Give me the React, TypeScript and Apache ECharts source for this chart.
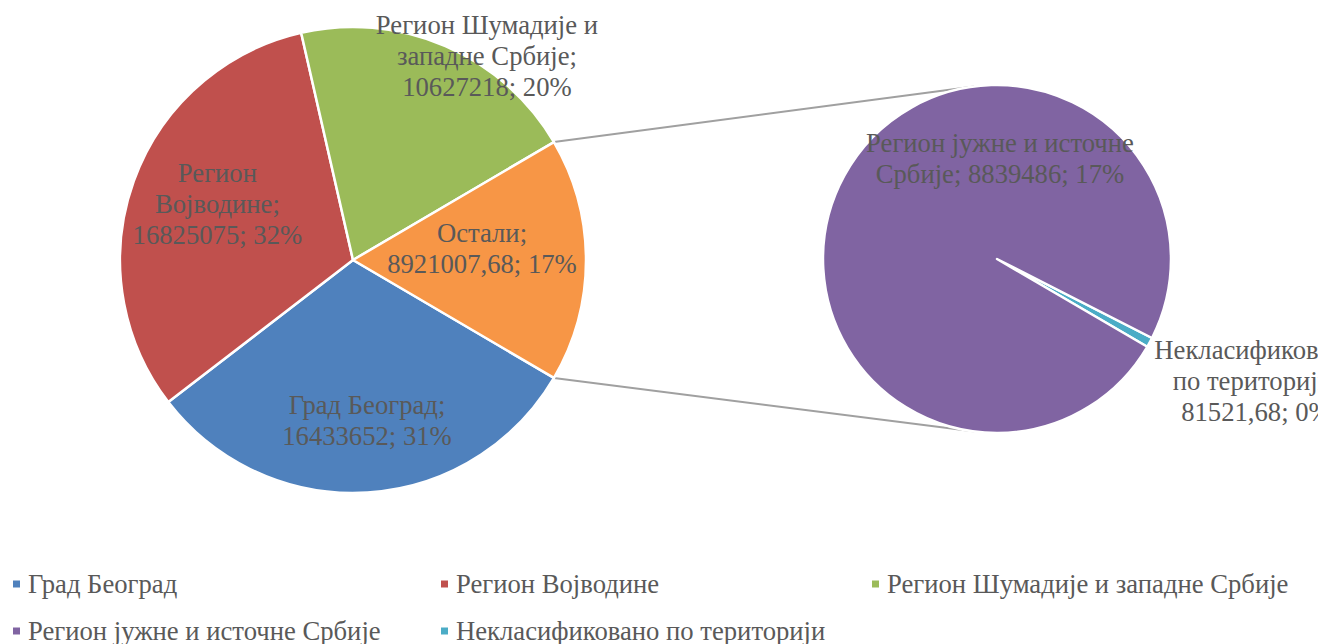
import React, { useEffect, useRef } from "react";
import * as echarts from "echarts";

// ---- data ----
const mainNames = [
  "Град Београд",
  "Регион Војводине",
  "Регион Шумадије и западне Србије",
  "Остали",
];
const mainValues = [16433652, 16825075, 10627218, 8921007.68];
const subNames = ["Некласификовано по територији", "Регион јужне и источне Србије"];
const subValues = [81521.68, 8839486];
const legendItems = [
  "Град Београд",
  "Регион Војводине",
  "Регион Шумадије и западне Србије",
  "Регион јужне и источне Србије",
  "Некласификовано по територији",
];

// ---- styles / layout ----
const mainColors = ["#4f81bd", "#c0504d", "#9bbb59", "#f79646"];
const subColors = ["#4bacc6", "#8064a2"];
const MC = [353, 260];
const MR = 233;
const SC = [997, 259];
const SR = 174;
const SUB_START = -27;
// label anchors: [radius factor, angle in degrees (counter-clockwise from 3 o'clock)]
const MAIN_LABEL_POS = [
  [0.69, -85],
  [0.63, 157.5],
  [1.047, 56.7],
  [0.556, 5.3],
];
const SUB_LABEL_POS = [
  [1.645, -25.2],
  [0.575, 88.3],
];
const MAIN_LABEL_W = [185, 185, 240, 205];
const SUB_LABEL_W = [225, 285];
const LEGEND_LEFT = [13, 441, 872, 13, 441];
const LEGEND_TOP = [569, 569, 569, 616, 616];
const FONT_NAME = "Liberation Serif";
const FONT = "'Liberation Serif', 'Times New Roman', serif";
const TEXT_COLOR = "#595959";
const FS = 26.67;

const total = mainValues.reduce((a, b) => a + b, 0);
const fmt = (v: number) => String(v).replace(".", ",");
const labelText = (name: string, v: number) =>
  `${name}; ${fmt(v)}; ${Math.round((v / total) * 100)}%`;

let measureCtx: CanvasRenderingContext2D | null = null;
function measure(s: string) {
  if (!measureCtx) {
    measureCtx = document.createElement("canvas").getContext("2d");
    if (measureCtx) measureCtx.font = `${FS}px '${FONT_NAME}'`;
  }
  return measureCtx ? measureCtx.measureText(s).width : s.length * FS * 0.5;
}
function wrap(text: string, w: number) {
  const words = text.split(" ");
  const lines: string[] = [];
  let cur = "";
  for (const word of words) {
    const test = cur ? cur + " " + word : word;
    if (cur && measure(test) > w) {
      lines.push(cur);
      cur = word;
    } else cur = test;
  }
  if (cur) lines.push(cur);
  return lines.join("\n");
}

function polar(c: number[], r: number, f: number, deg: number) {
  const a = (deg * Math.PI) / 180;
  return [c[0] + f * r * Math.cos(a), c[1] - f * r * Math.sin(a)];
}

function tangentPoints(p: number[], c: number[], r: number) {
  const dx = p[0] - c[0];
  const dy = p[1] - c[1];
  const d = Math.sqrt(dx * dx + dy * dy);
  const th = Math.atan2(dy, dx);
  const al = Math.acos(r / d);
  return [th + al, th - al].map((t) => [c[0] + r * Math.cos(t), c[1] + r * Math.sin(t)]);
}

export default function App() {
  const ref = useRef<HTMLDivElement>(null);
  useEffect(() => {
    document.body.style.margin = "0";
    if (!ref.current) return;
    const chart = echarts.init(ref.current, undefined, { renderer: "svg" });

    // "Other" slice is centred at 3 o'clock
    const otherAngle = (mainValues[3] / total) * 360;
    const mainStart = -otherAngle / 2;
    const pTop = polar(MC, MR, 1, otherAngle / 2);
    const pBot = polar(MC, MR, 1, -otherAngle / 2);
    const tTop = tangentPoints(pTop, SC, SR).sort((a, b) => a[1] - b[1])[0];
    const tBot = tangentPoints(pBot, SC, SR).sort((a, b) => b[1] - a[1])[0];

    const labelBase = {
      show: true,
      position: "inside",
      color: TEXT_COLOR,
      fontFamily: FONT,
      fontSize: FS,
      lineHeight: 31,
      align: "center",
    };

    chart.setOption({
      animation: false,
      backgroundColor: "#ffffff",
      legend: legendItems.map((name, i) => ({
        left: LEGEND_LEFT[i],
        top: LEGEND_TOP[i],
        data: [name],
        icon: "rect",
        itemWidth: 7,
        itemHeight: 7,
        padding: 0,
        selectedMode: false,
        itemStyle: { borderWidth: 0 },
        textStyle: {
          color: TEXT_COLOR,
          fontFamily: FONT,
          fontSize: FS,
          lineHeight: 30,
          padding: [0, 0, 0, 3],
        },
      })),
      graphic: [
        {
          type: "line",
          z: 0,
          shape: { x1: pTop[0], y1: pTop[1], x2: tTop[0], y2: tTop[1] },
          style: { stroke: "#a0a0a0", lineWidth: 2 },
        },
        {
          type: "line",
          z: 0,
          shape: { x1: pBot[0], y1: pBot[1], x2: tBot[0], y2: tBot[1] },
          style: { stroke: "#a0a0a0", lineWidth: 2 },
        },
      ],
      series: [
        {
          type: "pie",
          center: MC,
          radius: MR,
          startAngle: mainStart,
          clockwise: true,
          avoidLabelOverlap: false,
          itemStyle: { borderColor: "#ffffff", borderWidth: 2.5 },
          emphasis: { disabled: true },
          labelLine: { show: false },
          label: {
            ...labelBase,
            formatter: (p: any) =>
              wrap(labelText(p.name, p.value), MAIN_LABEL_W[p.dataIndex]),
          },
          labelLayout: (p: any) => {
            const [f, ang] = MAIN_LABEL_POS[p.dataIndex];
            const [x, y] = polar(MC, MR, f, ang);
            return { x, y, align: "center", verticalAlign: "middle" };
          },
          data: mainNames.map((n, i) => ({
            name: n,
            value: mainValues[i],
            itemStyle: { color: mainColors[i] },
          })),
        },
        {
          type: "pie",
          center: SC,
          radius: SR,
          startAngle: SUB_START,
          clockwise: true,
          avoidLabelOverlap: false,
          itemStyle: { borderColor: "#ffffff", borderWidth: 2.5 },
          emphasis: { disabled: true },
          labelLine: { show: false },
          label: {
            ...labelBase,
            formatter: (p: any) =>
              wrap(labelText(p.name, p.value), SUB_LABEL_W[p.dataIndex]),
          },
          labelLayout: (p: any) => {
            const [f, ang] = SUB_LABEL_POS[p.dataIndex];
            const [x, y] = polar(SC, SR, f, ang);
            return { x, y, align: "center", verticalAlign: "middle" };
          },
          data: subNames.map((n, i) => ({
            name: n,
            value: subValues[i],
            itemStyle: { color: subColors[i] },
          })),
        },
      ],
    });
    return () => chart.dispose();
  }, []);
  return <div ref={ref} style={{ width: 1318, height: 644 }} />;
}
